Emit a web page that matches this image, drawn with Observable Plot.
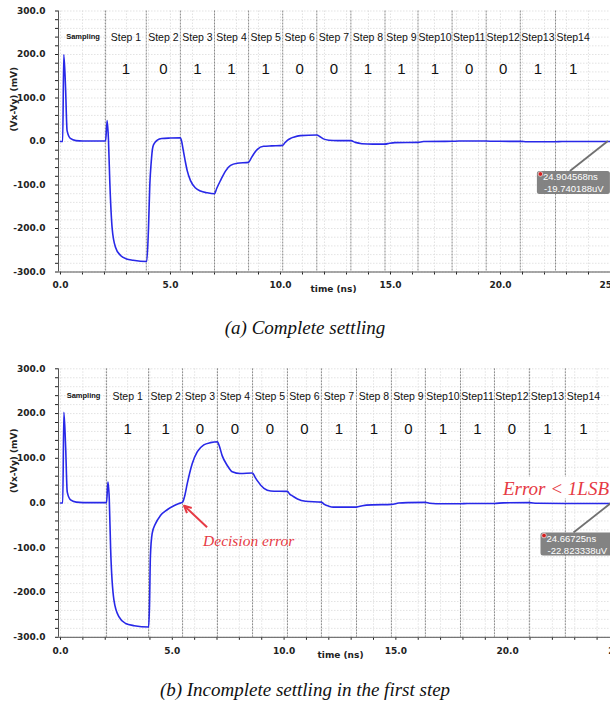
<!DOCTYPE html>
<html><head><meta charset="utf-8">
<script src="https://cdn.jsdelivr.net/npm/d3@7"></script>
<script src="https://cdn.jsdelivr.net/npm/@observablehq/plot@0.6"></script>
<style>
html,body{margin:0;padding:0;background:#fff;overflow:hidden;}
#page{position:relative;width:610px;height:711px;overflow:hidden;background:#fff;}
.panel{position:absolute;left:0;}
.cap{position:absolute;left:0;width:610px;text-align:center;font-family:"Liberation Serif","DejaVu Serif",serif;font-style:italic;font-size:19px;line-height:24px;color:#111;}
</style></head><body>
<div id="page">
  <div id="pa" class="panel" style="top:0px"></div>
  <div class="cap" style="top:316px">(a) Complete settling</div>
  <div id="pb" class="panel" style="top:358px"></div>
  <div class="cap" style="top:678px">(b) Incomplete settling in the first step</div>
</div>
<script>
// ---------- data ----------
const stepNames = ["Sampling","Step 1","Step 2","Step 3","Step 4","Step 5","Step 6","Step 7","Step 8","Step 9","Step10","Step11","Step12","Step13","Step14"];

// step boundaries (ns), panel (a) and (b)
const edgesA = [0, 2.05, 3.9, 5.45, 7.0, 8.55, 10.1, 11.65, 13.2, 14.75, 16.25, 17.8, 19.35, 20.9, 22.5, 24.1];
const edgesB = [0, 2.06, 3.94, 5.46, 7.02, 8.59, 10.15, 11.67, 13.24, 14.8, 16.32, 17.89, 19.41, 20.97, 22.58, 24.2];

// decided bits per step
const bitsA = [1, 0, 1, 1, 1, 0, 0, 1, 1, 1, 0, 0, 1, 1];
const bitsB = [1, 1, 0, 0, 0, 0, 1, 1, 0, 1, 1, 0, 1, 1];

// waveform (Vx-Vy) in mV, panel (a)
const timeA = [0, 0.1, 0.15, 0.23, 0.3, 0.45, 0.7, 1.0, 2.05,
  2.12, 2.18, 2.24, 2.35, 2.5, 2.73, 3.0, 3.3, 3.92,
  4.0, 4.06, 4.12, 4.2, 4.3, 4.4, 4.6, 5.0, 5.45,
  5.5, 5.58, 5.67, 5.76, 5.91, 6.14, 6.36, 6.67, 7.0,
  7.1, 7.27, 7.5, 7.73, 8.03, 8.55,
  8.65, 8.79, 8.95, 9.23, 9.6, 10.1,
  10.2, 10.3, 10.45, 10.6, 10.9, 11.65,
  11.8, 11.95, 12.2, 12.6, 13.2,
  13.4, 13.7, 14.2, 14.75,
  14.95, 15.2, 16.25,
  16.5, 17.8, 18.1, 19.35, 19.7, 20.9, 21.2, 22.5, 22.8, 25.2];
const voltA = [0, 0, 200, 124, 25, 7, 2, 1, 1,
  48, 5, -90, -200, -243, -262, -270, -273, -276,
  -200, -100, -50, -12, -2, 3, 7, 8, 8.5,
  2, -20, -45, -67, -90, -107, -114, -118, -120,
  -108, -90, -68, -55, -50, -48,
  -40, -28, -18, -11, -10, -9,
  -3, 2, 7, 10, 13.5, 15,
  11, 6, 3, 2, 2,
  -2, -5, -6, -6,
  -4, -2.5, -2,
  0, 0.5, 1, 1, 0.5, 0.3, -0.5, -0.5, 0, 0];

// waveform (Vx-Vy) in mV, panel (b)
const timeB = [0, 0.1, 0.15, 0.23, 0.3, 0.45, 0.7, 1.0, 2.06,
  2.12, 2.18, 2.24, 2.39, 2.61, 2.91, 3.3, 3.94,
  3.98, 4.02, 4.1, 4.25, 4.47, 4.77, 5.07, 5.3, 5.46,
  5.55, 5.67, 5.89, 6.12, 6.41, 6.71, 7.02,
  7.1, 7.23, 7.46, 7.68, 8.05, 8.59,
  8.7, 8.8, 9.1, 9.4, 10.15,
  10.25, 10.37, 10.6, 10.96, 11.67,
  11.8, 12.0, 12.2, 13.24,
  13.5, 13.95, 14.8,
  15.13, 15.5, 16.32,
  16.5, 16.8, 17.89, 18.2, 19.41, 19.8, 20.97, 21.3, 22.58, 23.0, 25.0];
const voltB = [0, 0, 203, 124, 25, 7, 2, 1, 1,
  47, 10, -100, -217, -254, -269, -274, -277,
  -230, -120, -68, -46, -28, -15, -6, -1, 2,
  15, 44, 88, 115, 130, 135, 137,
  128, 106, 84, 70, 66, 67,
  58, 50, 33, 27, 26,
  20, 16, 9, 4, 2,
  -3, -7, -9, -9,
  -6, -4, -3,
  0, 1, 1.5,
  -0.5, -1.5, -1.5, -1, -1, 0.5, 1, -0.5, -1, -1, -1];

// cursor read-outs
const cursorA = {t: 24.904568, v: -0.019740188, line1: "24.904568ns", line2: "-19.740188uV"};
const cursorB = {t: 24.66725, v: -0.022823338, line1: "24.66725ns", line2: "-22.823338uV"};

// annotations of panel (b)
const decisionNote = {t: 5.46, v: 2, text: "Decision error"};
const errorNote = {v: 0, text: "Error < 1LSB"};

const yTicks = d3.range(-300, 301, 20);
const xTicks = d3.range(0, 26, 1);
const RED = "#e63a44";

// ---------- drawing ----------
function panel(cfg) {
  const wave = cfg.time.map((t, i) => ({t, v: cfg.volt[i]}));
  const mids = stepNames.map((name, i) => ({name, t: (cfg.edges[i] + cfg.edges[i + 1]) / 2, bit: i > 0 ? cfg.bits[i - 1] : null}));
  const chart = Plot.plot({
    width: 610, height: cfg.height,
    marginLeft: 58, marginRight: 0, marginTop: cfg.marginTop, marginBottom: cfg.marginBottom,
    style: {fontFamily: "DejaVu Sans", fontSize: "9px", fontWeight: "bold", color: "#222", background: "white", overflow: "hidden"},
    x: {domain: [-0.09, cfg.xMax], ticks: xTicks, tickFormat: d => d % 5 === 0 ? d.toFixed(1) : "", tickSize: 3, tickPadding: 7, label: null},
    y: {domain: [-300, 300], ticks: yTicks, tickFormat: d => d % 100 === 0 ? d.toFixed(1) : "", tickSize: 3, tickPadding: 10, label: null},
    marks: [
      Plot.ruleX(xTicks, {stroke: "#dcdcdc", strokeWidth: 0.8, strokeDasharray: "1.5,1.5"}),
      Plot.ruleY(yTicks, {stroke: "#dcdcdc", strokeWidth: 0.8, strokeDasharray: "1.5,1.5"}),
      Plot.ruleX(cfg.edges.slice(1, 15), {stroke: "#8a8a8a", strokeWidth: 1, strokeDasharray: "2,1"}),
      Plot.ruleY([-300], {stroke: "#555", strokeWidth: 1}),
      Plot.ruleX([-0.09], {stroke: "#555", strokeWidth: 1}),
      Plot.line(wave, {x: "t", y: "v", stroke: "#2828e8", strokeWidth: 1.6, curve: "monotone-x"}),
      Plot.text(mids.slice(0, 1), {x: "t", text: "name", frameAnchor: "top", dy: cfg.labelDy, fontFamily: "Liberation Sans", fontSize: 7.5, fontWeight: "bold", fill: "#111"}),
      Plot.text(mids.slice(1), {x: "t", text: "name", frameAnchor: "top", dy: cfg.labelDy, fontFamily: "Liberation Sans", fontSize: 10.5, fontWeight: "normal", fill: "#111"}),
      Plot.text(mids.slice(1), {x: "t", text: d => String(d.bit), frameAnchor: "top", dy: cfg.bitDy, fontFamily: "Liberation Sans", fontSize: 15, fontWeight: "normal", fill: "#111"}),
      Plot.text(["(Vx-Vy) (mV)"], {frameAnchor: "left", rotate: -90, dx: -44, dy: -10, fontFamily: "DejaVu Sans", fontSize: 9, fontWeight: "bold", fill: "#222"}),
      Plot.text(["time (ns)"], {frameAnchor: "bottom", dx: cfg.tlabDx, dy: cfg.tlabDy, fontFamily: "DejaVu Sans", fontSize: 9, fontWeight: "bold", fill: "#222"})
    ]
  });
  const sx = chart.scale("x"), sy = chart.scale("y");
  chart.fx = d3.scaleLinear(sx.domain, sx.range);
  chart.fy = d3.scaleLinear(sy.domain, sy.range);
  return chart;
}

function addCursor(chart, c) {
  const mx = chart.fx(c.t), my = chart.fy(c.v);
  const g = d3.select(chart).append("g").attr("text-anchor", "start");
  g.append("line").attr("x1", mx - 38).attr("y1", my + 30).attr("x2", mx).attr("y2", my)
    .attr("stroke", "#707070").attr("stroke-width", 1.8);
  g.append("rect").attr("x", mx - 71).attr("y", my + 30).attr("width", 73).attr("height", 23).attr("rx", 2.5)
    .attr("fill", "#7a7a7a").attr("fill-opacity", 0.93);
  g.append("circle").attr("cx", mx - 67.5).attr("cy", my + 33).attr("r", 2.3)
    .attr("fill", "#d42020").attr("stroke", "#fff").attr("stroke-width", 0.6);
  g.append("text").attr("x", mx - 65).attr("y", my + 36).attr("dy", "0.35em").text(c.line1)
    .attr("fill", "#fff").attr("font-family", "Liberation Sans").attr("font-size", 9.5).attr("font-weight", "normal");
  g.append("text").attr("x", mx - 64).attr("y", my + 48).attr("dy", "0.35em").text(c.line2)
    .attr("fill", "#fff").attr("font-family", "Liberation Sans").attr("font-size", 9.5).attr("font-weight", "normal");
}

const chartA = panel({time: timeA, volt: voltA, edges: edgesA, bits: bitsA, xMax: 25,
  height: 300, marginTop: 10.5, marginBottom: 28.5, labelDy: 22.5, bitDy: 52.5, tlabDx: -1, tlabDy: 19.5});
addCursor(chartA, cursorA);
document.getElementById("pa").appendChild(chartA);

const chartB = panel({time: timeB, volt: voltB, edges: edgesB, bits: bitsB, xMax: 24.6,
  height: 309, marginTop: 10.3, marginBottom: 30.2, labelDy: 23.4, bitDy: 54.4, tlabDx: 6, tlabDy: 21});

// "Error < 1LSB" note with white backing
{
  const g = d3.select(chartB).append("g");
  const y0 = chartB.fy(errorNote.v);
  g.append("rect").attr("x", 610 - 113).attr("y", y0 - 26).attr("width", 113).attr("height", 22).attr("fill", "#fff");
  g.append("text").attr("x", 609).attr("y", y0 - 7.5).attr("text-anchor", "end").text(errorNote.text)
    .attr("fill", RED).attr("font-family", "Liberation Serif").attr("font-style", "italic")
    .attr("font-size", 19).attr("font-weight", "normal");
}
// "Decision error" arrow + text
{
  const g = d3.select(chartB).append("g").attr("text-anchor", "start");
  const px = chartB.fx(decisionNote.t), py = chartB.fy(decisionNote.v);
  const hx = px + 2, hy = py + 4, tx = px + 25, ty = py + 25.5;
  const ang = Math.atan2(hy - ty, hx - tx), L = 8, spread = 0.45;
  g.append("line").attr("x1", tx).attr("y1", ty).attr("x2", hx).attr("y2", hy)
    .attr("stroke", RED).attr("stroke-width", 2);
  g.append("path").attr("d",
    `M${hx - L * Math.cos(ang - spread)},${hy - L * Math.sin(ang - spread)}L${hx},${hy}L${hx - L * Math.cos(ang + spread)},${hy - L * Math.sin(ang + spread)}`)
    .attr("fill", "none").attr("stroke", RED).attr("stroke-width", 2).attr("stroke-linejoin", "round");
  g.append("text").attr("x", px + 21).attr("y", py + 44).text(decisionNote.text)
    .attr("fill", RED).attr("font-family", "Liberation Serif").attr("font-style", "italic")
    .attr("font-size", 15.5).attr("font-weight", "normal");
}
addCursor(chartB, cursorB);
document.getElementById("pb").appendChild(chartB);
</script>
</body></html>
